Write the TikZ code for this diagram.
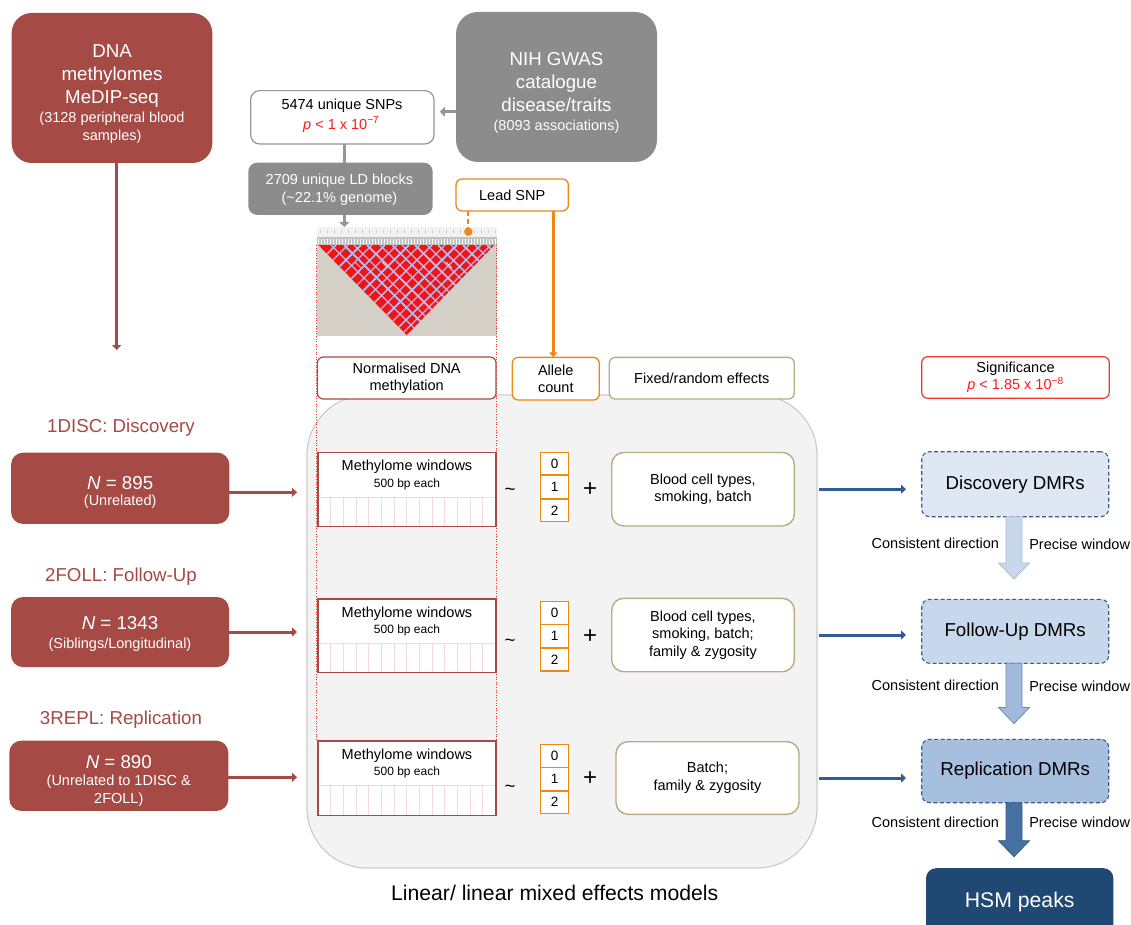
\documentclass[tikz,border=0pt]{standalone}
\usepackage{fontspec}
\setmainfont{Liberation Sans}
\usetikzlibrary{arrows.meta}
\definecolor{brick}{RGB}{165,74,68}
\definecolor{gbox}{RGB}{140,140,140}
\definecolor{gline}{RGB}{150,150,150}
\definecolor{orng}{RGB}{236,136,20}
\definecolor{khaki}{RGB}{184,172,128}
\definecolor{sigred}{RGB}{240,56,40}
\definecolor{pred}{RGB}{255,25,25}
\definecolor{bigfill}{RGB}{243,243,243}
\definecolor{bigdraw}{RGB}{205,205,205}
\definecolor{bline}{RGB}{46,94,149}
\definecolor{dmrb}{RGB}{62,92,132}
\definecolor{dmrA}{RGB}{222,231,243}
\definecolor{dmrB}{RGB}{199,216,236}
\definecolor{dmrC}{RGB}{166,191,222}
\definecolor{barA}{RGB}{200,216,236}
\definecolor{barAd}{RGB}{170,192,220}
\definecolor{barB}{RGB}{160,186,220}
\definecolor{barBd}{RGB}{104,138,184}
\definecolor{barC}{RGB}{70,113,163}
\definecolor{barCd}{RGB}{52,92,140}
\definecolor{hsm}{RGB}{31,72,114}
\definecolor{ldbg}{RGB}{212,208,200}
\definecolor{ldred}{RGB}{240,20,20}
\definecolor{ldlav}{RGB}{186,184,236}
\definecolor{ldpink}{RGB}{255,200,200}
\definecolor{stripe}{RGB}{244,218,218}
\definecolor{dotred}{RGB}{232,50,40}

\newcommand\myBig{\fontsize{18.7}{23}\selectfont}
\newcommand\myMid{\fontsize{14.5}{17.6}\selectfont}
\newcommand\myMidT{\fontsize{14.5}{16.6}\selectfont}
\newcommand\mySml{\fontsize{12}{14}\selectfont}
\newcommand\myHuge{\fontsize{21.2}{25}\selectfont}
\newcommand\myPlus{\fontsize{24}{26}\selectfont}
\newcommand\myDigit{\fontsize{13.5}{15}\selectfont}
\newcommand\myMinus{\char"2212\relax}

\begin{document}
\begin{tikzpicture}[x=1pt,y=-1pt,
  every node/.style={inner sep=0pt,outer sep=0pt},
  redbox/.style={fill=brick, rounded corners=12, text=white},
  hdr/.style={draw, fill=white, rounded corners=6, line width=1.2, align=center, font=\myMidT},
  allele/.style={draw=orng, fill=white, line width=1.4, minimum width=28, minimum height=22.7, font=\myDigit},
  effbox/.style={draw=khaki, fill=white, rounded corners=12, line width=1.4, align=center, font=\myMid, minimum width=182.6, minimum height=73.5},
  methbox/.style={draw=brick, fill=white, line width=1.4, minimum width=178, minimum height=74},
  dmr/.style={draw=dmrb, dash pattern=on 4pt off 2.5pt, line width=1.1, rounded corners=8, minimum width=187, font=\myBig},
  redarrow/.style={draw=brick, line width=3, -{Triangle[width=9pt,length=5pt]}},
  bluearrow/.style={draw=bline, line width=3, -{Triangle[width=9pt,length=5pt]}},
  grayarrow/.style={draw=gline, line width=3.5, -{Triangle[width=10pt,length=5pt]}},
  grayline/.style={draw=gline, line width=3.5},
  orngline/.style={draw=orng, line width=2.6},
  rowlab/.style={font=\myBig, text=brick},
  lbl/.style={font=\myMid},
  tilde/.style={font=\myBig},
  plus/.style={font=\myPlus}
]
\fill[white] (0,0) rectangle (1131,925);
\useasboundingbox (0,0) rectangle (1131,925);

% ---------- top left
\node[fill=brick, rounded corners=20, minimum width=200.6, minimum height=150] (dna) at (112,88) {};
\node[align=center, font=\myBig, text=white] (dnaT) at (112,76.5) {DNA\\methylomes\\MeDIP-seq};
\node[align=center, font=\myMid, text=white] (dnaS) at (112,128) {(3128 peripheral blood\\samples)};
\coordinate (dnaend) at (116.7,350);
\draw[redarrow] (dna.south -| dnaend) -- (dnaend);

% ---------- GWAS
\node[fill=gbox, rounded corners=22, minimum width=201, minimum height=150] (nih) at (556.5,87) {};
\node[align=center, font=\myBig, text=white] (nihT) at (556.5,82.5) {NIH GWAS\\catalogue\\disease/traits};
\node[font=\myMid, text=white] (nihS) at (556.5,126.5) {(8093 associations)};

\node[draw=gline, line width=1.2, fill=white, rounded corners=9, minimum width=183.3, minimum height=53.3] (snps) at (342.3,117.3) {};
\node[font=\myMid] (snpsT) at (342,105.5) {5474 unique SNPs};
\node[font=\myMid, text=pred] (snpsP) at (341.3,124.5) {\textit{p} < 1 x 10\textsuperscript{\myMinus7}};
\draw[grayarrow, shorten >=6] ([yshift=-24.7pt]nih.west) -- ([yshift=-24.7pt]nih.west -| snps.east);

\node[fill=gbox, rounded corners=9, minimum width=184.4, minimum height=52.3] (ld) at (340.5,188.8) {};
\node[font=\myMid, text=white, align=center] (ldT) at (339.5,190) {2709 unique LD blocks\\(\textasciitilde22.1\% genome)};
\draw[grayline] ([xshift=2pt]snps.south) -- ([xshift=2pt]snps.south |- ld.north);

\node[draw=orng, line width=1.3, fill=white, rounded corners=6, minimum width=112.3, minimum height=32, font=\myMid] (lead) at (512.2,195) {Lead SNP};

% ---------- big model box
\node[fill=bigfill, draw=bigdraw, line width=1.2, rounded corners=60, minimum width=510, minimum height=473] (big) at (562,631.5) {};
\node[font=\myHuge] (bigT) at (554.7,893.3) {Linear/ linear mixed effects models};

% ---------- LD heatmap
\node[minimum width=180, minimum height=109] (heat) at (407,281.5) {};
\fill[ldbg] (317,244) rectangle (497,336);
\fill[black!5] (317,227) rectangle (497,237);
\fill[black!24] (317,237) rectangle (497,245);
\foreach \x in {318,321,...,495} \draw[white, line width=0.6] (\x,238.5) -- (\x,243.5);
\foreach \x in {320,327,...,495} \draw[black!20, line width=0.5] (\x,230) -- (\x,233);
\begin{scope}
  \clip (318.3,245) -- (494.3,245) -- (406.7,335) -- cycle;
  \fill[ldred] (300,240) rectangle (510,340);
  \foreach \p/\w in {331/1.2,344/1.8,354/1.1,367/1.9,380/1.2,392/1.7,402/1.1,415/1.9,427/1.2,438/1.7,451/1.2,463/1.9,475/1.1,487/1.6}
    \draw[ldlav, line width=\w] (\p,245) -- ++(100,100);
  \foreach \p/\w in {336/1.6,348/1.2,361/1.9,372/1.1,385/1.7,397/1.2,409/1.9,420/1.1,432/1.7,445/1.2,457/1.9,469/1.1,481/1.7,491/1.2}
    \draw[ldlav, line width=\w] (\p,245) -- ++(-100,100);
  \foreach \p in {355,382,419,446}
    \draw[ldpink, line width=0.8] (\p,262) -- ++(6,6);
\end{scope}
\draw[grayarrow] ([xshift=3.8pt]ld.south) -- ([xshift=3.8pt]ld.south |- heat.north);

% lead SNP connectors
\coordinate (snpdot) at (468.3,231.7);
\draw[orngline, line width=2.2, dash pattern=on 5pt off 3pt] (lead.south -| snpdot) -- (snpdot);
\fill[orng] (snpdot) circle (4.2);

% red dotted guide lines
\draw[dotred, line width=1, dash pattern=on 1pt off 1.6pt] (316.7,245) -- (316.7,741);
\draw[dotred, line width=1, dash pattern=on 1pt off 1.6pt] (496,245) -- (496,741);

% ---------- headers
\node[hdr, draw=brick, minimum width=178.7, minimum height=42] (normh) at (406.7,378) {Normalised DNA\\methylation};
\node[hdr, draw=orng, line width=1.3, minimum width=87, minimum height=42.7] (allh) at (555.8,378.7) {Allele\\count};
\node[hdr, draw=khaki, line width=1.3, minimum width=185, minimum height=41.7] (fixh) at (701.8,378.2) {Fixed/random effects};
\node[hdr, draw=sigred, minimum width=187.6, minimum height=41.6] (sig) at (1015.5,377.5) {Significance\\\textcolor{pred}{\textit{p} < 1.85 x 10\textsuperscript{\myMinus8}}};
\draw[orngline, -{Triangle[width=8pt,length=5pt]}] ([xshift=41.1pt]lead.south) -- ([xshift=41.1pt]lead.south |- allh.north);

% ---------- row 1
\node[rowlab] (lab1) at (121,427.3) {1DISC: Discovery};
\node[redbox, minimum width=218.3, minimum height=71.3] (n1) at (120.2,488.3) {};
\node[font=\myBig, text=white] (n1T) at (120.2,482.7) {\textit{N} = 895};
\node[font=\myMid, text=white] (n1S) at (120.2,501.7) {(Unrelated)};
\node[methbox, minimum height=74] (m1) at (407,489.7) {};
\foreach \k in {1,...,13} \draw[stripe, line width=1] (318+\k*12.67,497.3) -- (318+\k*12.67,526);
\draw[stripe, line width=1] (318.7,497.3) -- (495.3,497.3);
\node[font=\myMid] (m1T) at (407,466.7) {Methylome windows};
\node[font=\mySml] (m1S) at (407,484) {500 bp each};
\draw[redarrow, shorten >=21] ([yshift=-4pt]n1.east) -- ([yshift=-4pt]n1.east -| m1.west);
\node[tilde] (t1) at (510,491.7) {\textasciitilde};
\node[allele, minimum height=22.7] (a1a) at (554.7,463.65) {0};
\node[allele, minimum height=24] (a1b) at (554.7,487) {1};
\node[allele, minimum height=22.7] (a1c) at (554.7,510.35) {2};
\node[plus] (p1) at (590,490) {+};
\node[effbox] (e1) at (703,489.2) {Blood cell types,\\smoking, batch};
\node[dmr, fill=dmrA, minimum height=65] (d1) at (1015.2,484.2) {Discovery DMRs};
\draw[bluearrow, shorten <=24.7, shorten >=15.7] (e1.east) -- (e1.east -| d1.west);

% ---------- row 2
\node[rowlab] (lab2) at (121,577) {2FOLL: Follow-Up};
\node[redbox, minimum width=218, minimum height=70] (n2) at (120,632) {};
\node[font=\myBig, text=white] (n2T) at (120,623) {\textit{N} = 1343};
\node[font=\myMid, text=white] (n2S) at (120,645) {(Siblings/Longitudinal)};
\node[methbox, minimum height=73.7] (m2) at (407,635.85) {};
\foreach \k in {1,...,13} \draw[stripe, line width=1] (318+\k*12.67,643.3) -- (318+\k*12.67,672);
\draw[stripe, line width=1] (318.7,643.3) -- (495.3,643.3);
\node[font=\myMid] (m2T) at (407,614) {Methylome windows};
\node[font=\mySml] (m2S) at (407,630) {500 bp each};
\draw[redarrow, shorten >=21] (n2.east) -- (n2.east -| m2.west);
\node[tilde] (t2) at (510,643.3) {\textasciitilde};
\node[allele, minimum height=22.6] (a2a) at (554.7,613) {0};
\node[allele, minimum height=23.7] (a2b) at (554.7,636.15) {1};
\node[allele, minimum height=23] (a2c) at (554.7,659.5) {2};
\node[plus] (p2) at (590,636.7) {+};
\node[effbox, minimum height=73.4] (e2) at (703,635) {Blood cell types,\\smoking, batch;\\family \& zygosity};
\node[dmr, fill=dmrB, minimum height=64] (d2) at (1015.2,631.3) {Follow-Up DMRs};
\draw[bluearrow, shorten <=24.7, shorten >=15.7] (e2.east) -- (e2.east -| d2.west);

% ---------- row 3
\node[rowlab] (lab3) at (121,719.3) {3REPL: Replication};
\node[redbox, minimum width=219, minimum height=70.3] (n3) at (118.8,775.8) {};
\node[font=\myBig, text=white] (n3T) at (118.8,761.7) {\textit{N} = 890};
\node[font=\myMid, text=white, align=center] (n3S) at (118.8,790.5) {(Unrelated to 1DISC \&\\2FOLL)};
\node[methbox, minimum height=74.3] (m3) at (407,778.15) {};
\foreach \k in {1,...,13} \draw[stripe, line width=1] (318+\k*12.67,785) -- (318+\k*12.67,814.6);
\draw[stripe, line width=1] (318.7,785) -- (495.3,785);
\node[font=\myMid] (m3T) at (407,756) {Methylome windows};
\node[font=\mySml] (m3S) at (407,772) {500 bp each};
\draw[redarrow, shorten >=21] ([yshift=-1.5pt]n3.east) -- ([yshift=-1.5pt]n3.east -| m3.west);
\node[tilde] (t3) at (510,789.3) {\textasciitilde};
\node[allele, minimum height=23] (a3a) at (554.7,755.8) {0};
\node[allele, minimum height=23.7] (a3b) at (554.7,779.15) {1};
\node[allele, minimum height=22.3] (a3c) at (554.7,802.15) {2};
\node[plus] (p3) at (590,779) {+};
\node[effbox, minimum width=183, minimum height=72.6] (e3) at (707.5,778) {Batch;\\family \& zygosity};
\node[dmr, fill=dmrC, minimum height=63.4] (d3) at (1015.2,771) {Replication DMRs};
\draw[bluearrow, shorten <=20, shorten >=15.7] (e3.east) -- (e3.east -| d3.west);

% ---------- HSM
\node[fill=hsm, rounded corners=10, minimum width=187.3, minimum height=67, font=\myHuge, text=white] (hsm) at (1019.7,901.7) {HSM peaks};

% ---------- block arrows
\coordinate (tip1) at (1014,579);
\coordinate (tip2) at (1014,723.5);
\coordinate (tip3) at (1014,856.7);
\filldraw[fill=barA, draw=barAd, line width=0.8]
  ([xshift=-8pt]d1.south -| tip1) -- ([xshift=8pt]d1.south -| tip1) -- ([xshift=8pt,yshift=16pt]tip1) -- ([xshift=15.5pt,yshift=16pt]tip1)
  -- (tip1) -- ([xshift=-15.5pt,yshift=16pt]tip1) -- ([xshift=-8pt,yshift=16pt]tip1) -- cycle;
\filldraw[fill=barB, draw=barBd, line width=0.8]
  ([xshift=-8pt]d2.south -| tip2) -- ([xshift=8pt]d2.south -| tip2) -- ([xshift=8pt,yshift=16pt]tip2) -- ([xshift=15.5pt,yshift=16pt]tip2)
  -- (tip2) -- ([xshift=-15.5pt,yshift=16pt]tip2) -- ([xshift=-8pt,yshift=16pt]tip2) -- cycle;
\filldraw[fill=barC, draw=barCd, line width=0.8]
  ([xshift=-8pt]d3.south -| tip3) -- ([xshift=8pt]d3.south -| tip3) -- ([xshift=8pt,yshift=16pt]tip3) -- ([xshift=15.5pt,yshift=16pt]tip3)
  -- (tip3) -- ([xshift=-15.5pt,yshift=16pt]tip3) -- ([xshift=-8pt,yshift=16pt]tip3) -- cycle;

\node[lbl, anchor=east] (c1) at (999,543.5) {Consistent direction};
\node[lbl, anchor=west] (w1) at (1029.3,544) {Precise window};
\node[lbl, anchor=east] (c2) at (999,685) {Consistent direction};
\node[lbl, anchor=west] (w2) at (1029.3,686) {Precise window};
\node[lbl, anchor=east] (c3) at (999,822) {Consistent direction};
\node[lbl, anchor=west] (w3) at (1029.3,822) {Precise window};
\end{tikzpicture}
\end{document}
